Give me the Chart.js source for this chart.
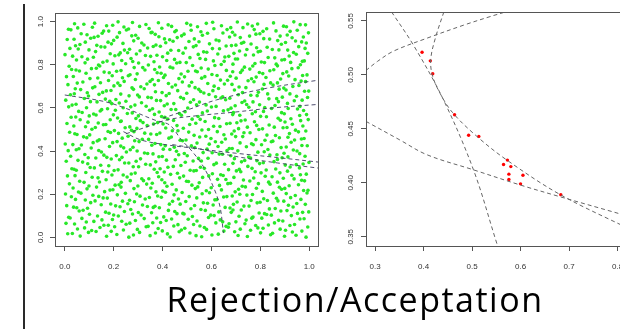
<!DOCTYPE html>
<html><head><meta charset="utf-8">
<script src="https://cdn.jsdelivr.net/npm/chart.js@4.4.0/dist/chart.umd.min.js"></script>
<style>
html,body{margin:0;padding:0;width:620px;height:329px;overflow:hidden;background:#fff;}
#wrap{position:relative;width:620px;height:329px;overflow:hidden;}
#cl{position:absolute;left:0;top:0;}
#cr{position:absolute;left:330px;top:0;}
#vline{position:absolute;left:23px;top:4px;width:2px;height:325px;background:#2a2a2a;}
#caption{position:absolute;top:282px;left:0;width:710px;text-align:center;font-family:"Open Sans";font-size:34px;line-height:34px;letter-spacing:1.5px;color:#000;white-space:nowrap;}
</style></head>
<body><div id="wrap">
<div id="vline"></div>
<canvas id="cl" width="330" height="290"></canvas>
<canvas id="cr" width="320" height="290"></canvas>
<div id="caption">Rejection/Acceptation</div>
</div>
<script>
// ---- tick labels ----
const leftXTicks=[0,0.2,0.4,0.6,0.8,1.0];
const leftYTicks=[0,0.2,0.4,0.6,0.8,1.0];
const rightXTicks=[0.3,0.4,0.5,0.6,0.7,0.8];
const rightYTicks=[0.35,0.40,0.45,0.50,0.55];

// ---- left panel: proposed points (thousandths) ----
const greenX=[
12,63,97,171,190,262,281,349,371,431,468,537,560,628,651,709,747,801,842,899,931,987,
31,52,128,144,213,240,306,333,399,420,491,512,580,602,669,695,760,790,850,881,946,970,
5,81,110,160,204,251,297,360,382,446,477,527,571,618,660,718,737,811,833,903,921,994,
40,70,119,178,195,266,289,341,392,437,463,541,553,636,672,700,765,781,858,875,940,979,
22,88,101,152,219,233,312,325,405,415,488,505,588,597,646,713,742,806,826,892,927,962,
16,59,134,167,200,270,277,355,376,450,459,522,575,611,681,688,770,795,845,909,952,998,
36,75,93,181,208,244,301,338,387,424,483,531,557,630,656,722,733,817,861,884,915,973,
8,49,124,149,226,258,285,362,369,441,472,516,584,607,676,705,754,787,837,896,934,984,
27,84,106,174,188,236,318,329,395,428,495,540,567,622,663,690,762,799,866,872,949,966,
44,66,139,157,215,265,294,346,380,412,465,509,592,614,650,716,745,814,829,906,924,991,
3,91,115,163,197,248,308,352,401,447,480,534,562,641,685,697,768,784,853,887,943,977,
34,56,99,185,222,230,283,335,373,418,456,520,579,599,667,711,739,808,840,900,918,995,
19,79,130,142,206,268,299,358,397,439,498,544,550,633,659,726,757,792,870,878,956,969,
42,61,112,169,231,239,315,322,384,409,470,506,589,625,678,692,731,820,834,894,929,981,
11,86,136,154,193,255,288,344,407,433,486,528,564,604,648,720,773,803,848,911,938,964,
29,47,104,176,218,272,302,366,378,422,461,538,571,638,670,702,749,779,863,880,960,988,
38,73,121,147,202,245,280,331,390,444,493,513,555,610,688,714,766,812,824,902,922,975,
6,94,127,180,224,262,310,350,372,416,475,525,586,620,654,694,736,797,856,889,947,999,
24,54,96,160,190,234,292,339,399,452,466,547,559,632,679,723,760,786,839,870,913,961,
47,82,139,172,211,252,296,361,385,430,489,501,582,603,645,708,752,816,868,897,935,983,
14,68,108,150,229,268,279,326,403,411,457,532,566,627,664,685,771,790,831,906,950,970,
33,58,133,183,196,241,304,356,369,448,482,518,591,616,673,717,743,805,851,885,926,992,
2,90,116,165,214,259,286,343,393,426,472,541,552,642,657,699,764,782,845,913,940,979,
41,77,102,141,187,235,317,327,376,436,496,507,577,598,683,728,733,819,827,878,956,968,
20,50,125,177,220,273,295,352,389,413,463,529,561,624,651,711,758,794,862,893,919,986,
9,85,111,158,203,247,283,337,402,440,485,511,588,609,676,693,747,809,836,909,944,974,
37,63,137,168,228,266,309,363,380,421,459,536,554,635,662,721,776,785,857,882,931,996,
26,95,100,186,199,231,291,320,396,445,477,521,574,613,687,704,738,801,873,901,961,965,
45,71,128,145,216,256,301,347,367,409,492,545,563,630,649,716,767,813,825,887,925,989,
16,57,118,175,207,239,276,333,386,435,469,503,583,619,668,690,753,780,846,898,952,977,
30,89,132,151,192,270,314,359,407,419,454,539,551,600,680,725,744,818,860,874,914,962,
4,46,105,166,223,250,287,340,375,446,486,514,578,639,658,697,770,797,835,911,939,993,
39,80,140,184,209,263,298,354,392,427,474,527,569,617,675,710,736,787,867,890,921,971,
23,65,97,155,189,229,305,325,371,415,499,548,590,606,646,727,761,808,830,905,948,981,
43,92,123,170,226,275,281,367,398,439,462,509,556,629,684,694,741,792,852,877,933,998,
13,51,114,146,201,243,311,336,383,453,481,533,585,611,666,713,774,815,842,896,958,967,
35,74,135,179,217,260,289,349,404,424,467,519,573,637,653,701,750,783,870,883,916,985,
7,87,103,161,194,236,296,358,378,410,490,542,560,602,677,719,764,810,823,908,942,973,
28,60,129,182,230,267,319,328,394,442,476,504,587,623,661,687,735,796,855,892,929,991,
46,83,109,143,212,249,284,342,368,431,458,535,558,614,688,726,757,778,839,870,955,964,
18,48,138,173,198,271,302,365,388,417,497,523,576,640,652,707,769,804,865,899,924,980,
32,93,117,156,221,233,278,330,400,449,471,546,553,608,671,698,739,817,832,888,947,972,
1,70,99,186,205,257,308,351,377,434,484,512,581,626,655,715,772,791,859,912,918,994,
44,55,126,164,227,244,293,339,391,421,466,526,568,604,682,692,745,800,828,876,936,983,
21,84,131,148,191,265,315,362,373,443,494,537,549,633,660,723,762,785,849,903,957,969,
10,62,106,177,214,238,282,324,408,413,460,508,592,619,674,700,732,814,871,886,930,988,
38,91,120,153,200,274,300,353,385,429,488,530,563,631,647,718,756,798,838,910,944,976,
15,67,136,180,224,252,290,345,370,450,478,517,584,610,686,696,775,782,864,881,922,997,
25,78,113,159,196,261,306,357,397,423,456,543,557,641,664,729,748,811,826,895,951,963,
40,53,122,171,218,242,277,332,383,437,499,515,579,605,679,706,767,789,854,907,937,985
];
const greenY=[
17,6,23,5,28,1,11,8,20,2,26,8,3,15,29,9,4,21,12,5,25,1,
18,39,27,46,13,34,23,49,30,16,42,20,37,11,47,26,33,44,19,38,10,29,
65,44,32,56,49,61,37,68,41,53,34,60,46,67,51,38,63,42,57,33,55,48,
62,88,74,56,83,66,78,51,69,85,59,76,53,81,63,72,89,55,67,79,60,86,
90,71,107,81,99,75,104,87,95,78,108,84,92,103,72,98,80,89,106,76,101,85,
93,122,99,117,104,129,108,114,90,120,110,97,125,101,116,127,94,113,103,124,111,118,
140,126,135,112,146,120,115,143,137,125,111,148,129,118,139,127,145,110,134,122,149,116,
147,137,169,151,142,156,165,139,144,167,154,133,158,150,136,164,145,160,132,168,141,153,
188,173,161,182,155,168,150,178,186,154,166,183,160,175,189,153,171,163,181,169,157,176,
176,205,190,183,197,172,201,185,192,209,178,189,207,174,187,200,196,179,171,203,184,206,
201,225,195,212,221,204,191,229,215,197,208,226,202,220,192,211,199,228,205,223,194,217,
229,210,238,219,244,233,226,247,211,237,220,242,216,230,249,223,234,213,246,227,239,218,
248,255,233,257,242,263,238,251,267,246,260,234,253,241,268,237,261,249,256,232,244,265,
286,260,279,267,255,289,272,263,281,253,276,259,285,269,251,278,266,283,256,274,288,262,
285,301,276,306,289,280,298,272,303,292,284,308,278,295,287,304,275,299,281,307,271,290,
318,311,324,303,313,294,327,316,301,325,297,310,320,290,314,308,329,304,317,299,322,293,
316,349,322,334,310,345,327,339,318,329,348,311,325,337,343,315,320,346,312,335,326,340,
353,341,368,332,360,345,364,336,350,358,333,354,367,344,339,365,356,342,351,369,337,347,
376,357,369,381,363,371,353,389,375,360,383,366,354,386,378,350,368,355,382,361,373,388,
406,384,403,371,379,396,400,387,374,407,389,378,409,392,385,401,372,397,383,390,405,376,
402,428,414,396,423,406,418,391,409,425,399,416,393,421,403,412,429,395,407,419,400,426,
430,411,447,421,439,415,444,427,435,418,448,424,432,443,412,438,420,429,446,416,441,425,
433,462,439,457,444,469,448,454,430,460,450,437,465,441,456,467,434,453,443,464,451,458,
480,466,475,452,486,460,455,483,477,465,451,488,469,458,479,467,485,450,474,462,489,456,
487,477,509,491,482,496,505,479,484,507,494,473,498,490,476,504,485,500,472,508,481,493,
528,513,501,522,495,508,490,518,526,494,506,523,500,515,529,493,511,503,521,509,497,516,
516,545,530,523,537,512,541,525,532,549,518,529,547,514,527,540,536,519,511,543,524,546,
557,534,563,545,568,539,551,532,560,542,566,548,537,555,569,531,544,561,552,535,565,541,
558,579,567,586,553,574,563,589,570,556,582,560,577,551,587,566,573,584,559,578,550,569,
605,584,572,596,589,601,577,608,581,593,574,600,586,607,591,578,603,582,597,573,595,588,
613,601,628,592,620,605,624,596,610,618,593,614,627,604,599,625,616,602,611,629,597,607,
636,617,629,641,623,631,613,649,635,620,643,626,614,646,638,610,628,615,642,621,633,648,
666,644,663,631,639,656,660,647,634,667,649,638,669,652,645,661,632,657,643,650,665,636,
661,685,655,672,681,664,651,689,675,657,668,686,662,680,652,671,659,688,665,683,654,677,
689,670,698,679,704,693,686,707,671,697,680,702,676,690,709,683,694,673,706,687,699,678,
708,715,693,717,702,723,698,711,727,706,720,694,713,701,728,697,721,709,716,692,704,725,
746,720,739,727,715,749,732,723,741,713,736,719,745,729,711,738,726,743,716,734,748,722,
745,761,736,766,749,740,758,732,763,752,744,768,738,755,747,764,735,759,741,767,731,750,
778,771,784,763,773,754,787,776,761,785,757,770,780,750,774,768,789,764,777,759,782,753,
776,809,782,794,770,805,787,799,778,789,808,771,785,797,803,775,780,806,772,795,786,800,
793,822,799,817,804,829,808,814,790,820,810,797,825,801,816,827,794,813,803,824,811,818,
840,826,835,812,846,820,815,843,837,825,811,848,829,818,839,827,845,810,834,822,849,816,
847,837,869,851,842,856,865,839,844,867,854,833,858,850,836,864,845,860,832,868,841,853,
888,873,861,882,855,868,850,878,886,854,866,883,860,875,889,853,871,863,881,869,857,876,
876,905,890,883,897,872,901,885,892,909,878,889,907,874,887,900,896,879,871,903,884,906,
917,894,923,905,928,899,911,892,920,902,926,908,897,915,929,891,904,921,912,895,925,901,
918,939,927,946,913,934,923,949,930,916,942,920,937,911,947,926,933,944,919,938,910,929,
965,944,932,956,949,961,937,968,941,953,934,960,946,967,951,938,963,942,957,933,955,948,
962,988,974,956,983,966,978,951,969,985,959,976,953,981,963,972,989,955,967,979,960,986,
990,971,993,981,999,975,996,987,995,978,992,984,992,997,972,998,980,989,994,976,999,985
];

// ---- left panel: dashed boundary curves ----
const leftCurveAX=[0.0,0.16,0.25,0.365,0.43,0.475,0.52,0.567,0.61,0.635,0.649];
const leftCurveAY=[0.66,0.63,0.598,0.545,0.52,0.455,0.40,0.328,0.228,0.142,0.02];
const leftCurveBX=[0.24,0.31,0.41,0.53,0.70,0.87,1.045];
const leftCurveBY=[0.49,0.452,0.43,0.413,0.39,0.37,0.348];
const leftCurveCX=[0.44,0.55,0.70,0.87,1.045];
const leftCurveCY=[0.43,0.41,0.375,0.345,0.32];
const leftCurveDX=[0.40,0.5,0.62,0.826,1.045];
const leftCurveDY=[0.552,0.59,0.637,0.691,0.73];
const leftCurveEX=[0.25,0.33,0.42,0.55,0.69,0.85,1.045];
const leftCurveEY=[0.48,0.51,0.545,0.565,0.58,0.60,0.617];

// ---- right panel: accepted points ----
const acceptedX=[0.397,0.414,0.419,0.464,0.493,0.514,0.573,0.565,0.580,0.576,0.605,0.576,0.600,0.683];
const acceptedY=[0.521,0.513,0.501,0.463,0.444,0.443,0.421,0.417,0.415,0.408,0.407,0.403,0.399,0.389];

// ---- right panel: dashed boundary curves ----
const rightCurve1X=[0.334,0.38,0.441,0.503,0.551,0.558];
const rightCurve1Y=[0.5585,0.527,0.477,0.412,0.344,0.335];
const rightCurve2X=[0.442,0.425,0.415,0.418,0.434,0.46,0.51,0.572,0.682,0.83];
const rightCurve2Y=[0.5585,0.535,0.515,0.500,0.483,0.465,0.443,0.421,0.389,0.356];
const rightCurve3X=[0.281,0.305,0.338,0.407,0.482,0.537,0.57];
const rightCurve3Y=[0.504,0.5125,0.522,0.534,0.546,0.554,0.5585];
const rightCurve4X=[0.281,0.35,0.407,0.503,0.599,0.682,0.83];
const rightCurve4Y=[0.457,0.44,0.426,0.412,0.398,0.387,0.368];

function pts(xs,ys,k){const n=Math.min(xs.length,ys.length);const o=[];for(let i=0;i<n;i++)o.push({x:xs[i]/k,y:ys[i]/k});return o;}

const boxPlugin={id:'box',afterDatasetsDraw(chart){const {ctx,chartArea:a}=chart;ctx.save();ctx.strokeStyle='#555';ctx.lineWidth=1;ctx.strokeRect(Math.round(a.left)+0.5,Math.round(a.top)+0.5,Math.round(a.right-a.left)-1,Math.round(a.bottom-a.top));ctx.restore();}};

function curveDS(xs,ys,color){return {data:pts(xs,ys,1),showLine:true,pointRadius:0,borderColor:color,borderWidth:1,borderDash:[4,3],tension:0.35,fill:false,order:0};}

function axisX(min,max,ticks,digits){return {type:'linear',min:min,max:max,
  afterFit:s=>{s.height=44;},
  afterBuildTicks:s=>{s.ticks=ticks.map(v=>({value:v}));},
  grid:{drawOnChartArea:false,drawTicks:true,tickLength:5,color:'#555',lineWidth:1},
  border:{display:false},
  ticks:{font:{family:'Liberation Sans',size:8},color:'#333',padding:11,maxRotation:0,minRotation:0,autoSkip:false,callback:v=>Number(v).toFixed(digits)}};}
function axisY(min,max,ticks,digits,w,pad){return {type:'linear',min:min,max:max,
  afterFit:s=>{s.width=w;},
  afterBuildTicks:s=>{s.ticks=ticks.map(v=>({value:v}));},
  grid:{drawOnChartArea:false,drawTicks:true,tickLength:5,color:'#555',lineWidth:1},
  border:{display:false},
  ticks:{font:{family:'Liberation Sans',size:8},color:'#333',padding:pad,minRotation:90,maxRotation:90,crossAlign:'center',autoSkip:false,callback:v=>Number(v).toFixed(digits)}};}

const common={responsive:false,animation:false,devicePixelRatio:1,
  plugins:{legend:{display:false},tooltip:{enabled:false}}};

const leftLine='rgba(60,60,95,0.9)';
new Chart(document.getElementById('cl'),{type:'scatter',
  data:{datasets:[
    {data:pts(greenX,greenY,1000),pointRadius:1.8,pointBackgroundColor:'rgb(40,232,40)',pointBorderWidth:0,order:2},
    curveDS(leftCurveAX,leftCurveAY,leftLine),
    curveDS(leftCurveBX,leftCurveBY,leftLine),
    curveDS(leftCurveCX,leftCurveCY,leftLine),
    curveDS(leftCurveDX,leftCurveDY,leftLine),
    curveDS(leftCurveEX,leftCurveEY,leftLine)
  ]},
  options:Object.assign({},common,{layout:{padding:{top:13,right:11,left:0,bottom:0}},
    scales:{x:axisX(-0.04,1.04,leftXTicks,1),y:axisY(-0.04,1.04,leftYTicks,1,55,4)}}),
  plugins:[boxPlugin]});

const rightLine='#666';
new Chart(document.getElementById('cr'),{type:'scatter',
  data:{datasets:[
    {data:pts(acceptedX,acceptedY,1),pointRadius:1.7,pointBackgroundColor:'#f00',pointBorderWidth:0,order:2},
    curveDS(rightCurve1X,rightCurve1Y,rightLine),
    curveDS(rightCurve2X,rightCurve2Y,rightLine),
    curveDS(rightCurve3X,rightCurve3Y,rightLine),
    curveDS(rightCurve4X,rightCurve4Y,rightLine)
  ]},
  options:Object.assign({},common,{layout:{padding:{top:12,right:20,left:0,bottom:0}},
    scales:{x:axisX(0.2814,0.8257,rightXTicks,1),y:axisY(0.3414,0.5583,rightYTicks,2,36,2)}}),
  plugins:[boxPlugin]});
</script>
</body></html>
